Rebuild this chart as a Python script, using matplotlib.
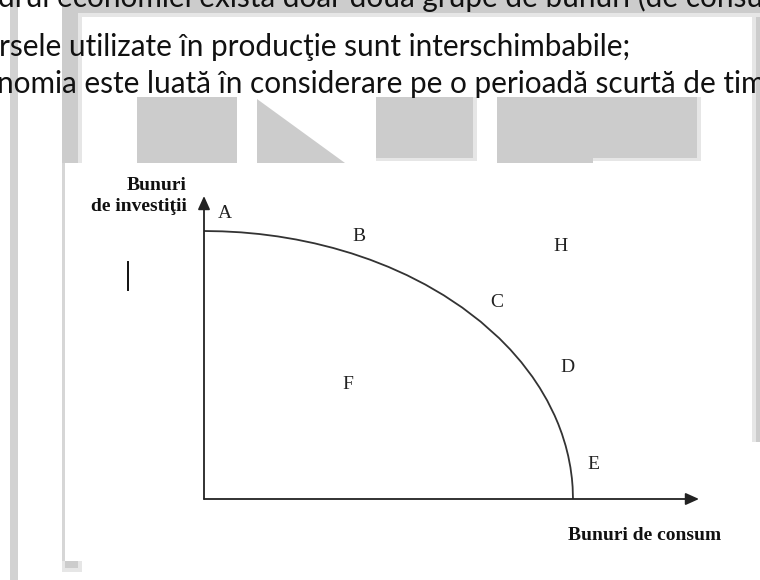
import matplotlib
matplotlib.use("Agg")
import matplotlib.pyplot as plt
from matplotlib.patches import Rectangle, Polygon

# ---------------- data ----------------
# production possibility frontier: consumption goods (x) vs investment goods (y), % of max
ppf_consum = [0, 5, 10, 15, 20, 25, 30, 35, 40, 45, 50, 55, 60, 65, 70, 75, 80, 83, 86,
              89, 91, 93, 95, 96, 97, 98, 98.7, 99.3, 99.7, 99.9, 100]
ppf_invest = [100, 99.87, 99.5, 98.87, 97.98, 96.82, 95.39, 93.67, 91.65, 89.3, 86.6,
              83.52, 80.0, 75.99, 71.41, 66.14, 60.0, 55.78, 51.03, 45.6, 41.46, 36.76,
              31.22, 28.0, 24.31, 19.9, 16.07, 11.81, 7.74, 4.47, 0]

point_names = ["A", "B", "C", "D", "E", "F", "H"]
point_x = [5.7, 42.0, 79.4, 98.6, 105.4, 39.0, 96.5]
point_y = [106.7, 97.8, 73.5, 48.9, 12.7, 42.9, 94.4]

x_label = "Bunuri de consum"
y_label = "Bunuri\nde investiţii"

doc_lines = [
    "drul economiei există doar două grupe de bunuri (de consum şi de investiţii);",
    "rsele utilizate în producţie sunt interschimbabile;",
    "nomia este luată în considerare pe o perioadă scurtă de timp",
]

# ---------------- figure ----------------
W, H = 760, 580
fig = plt.figure(figsize=(W / 100, H / 100), dpi=100)
fig.patch.set_facecolor("white")

bg = fig.add_axes([0, 0, 1, 1])
bg.set_xlim(0, W)
bg.set_ylim(H, 0)
bg.axis("off")

G = "#cccccc"
GL = "#e6e6e6"

def rect(x0, y0, x1, y1, c=G, z=1):
    bg.add_patch(Rectangle((x0, y0), x1 - x0, y1 - y0, facecolor=c, edgecolor="none", zorder=z))

# scanned-page artefacts
rect(10, 0, 18, 580, "#d2d2d2")
rect(62, 0, 760, 13)
rect(82, 13, 760, 17, GL)
rect(62, 0, 78, 163)
rect(78, 13, 82, 163, GL)
rect(62, 163, 65, 572, "#d6d6d6")
rect(62, 561, 82, 572, GL)
rect(65, 561, 78, 568)
rect(137, 97, 237, 163)
bg.add_patch(Polygon([(257, 99), (257, 163), (345, 163)], closed=True,
                     facecolor=G, edgecolor="none", zorder=1))
rect(376, 97, 477, 161, GL)
rect(376, 97, 473, 158)
rect(497, 97, 701, 161, GL)
rect(497, 97, 697, 158)
rect(497, 97, 593, 163)
rect(752, 17, 756, 442, GL)
rect(756, 17, 760, 442)

# cursor line
bg.plot([128, 128], [262, 290], color="#111111", lw=1.4, zorder=3)

# document text (Calibri-like)
fs = 19
t2 = bg.text(-1, 56, doc_lines[1], family="Lato", fontsize=fs, va="baseline",
             ha="left", color="#111111", zorder=4)
fig.canvas.draw()
bb = t2.get_window_extent()
fs = fs * 632.0 / bb.width
t2.set_fontsize(fs)
bg.text(-2, 7, doc_lines[0], family="Lato", fontsize=fs, va="baseline",
        ha="left", color="#111111", zorder=4)
bg.text(-3, 93, doc_lines[2], family="Lato", fontsize=fs, va="baseline",
        ha="left", color="#111111", zorder=4)

# ---------------- chart ----------------
ox, oy = 204, 499        # origin pixels
tipx, tipy = 699, 196    # arrow tips
ax = fig.add_axes([ox / W, (H - oy) / H, (tipx - ox) / W, (oy - tipy) / H])
sx = 369 / 100.0
sy = 268 / 100.0
ax.set_xlim(0, (tipx - ox) / sx)
ax.set_ylim(0, (oy - tipy) / sy)
ax.axis("off")
ax.patch.set_alpha(0)

ink = "#222222"
ax.plot(ppf_consum, ppf_invest, color="#333333", lw=1.3, solid_capstyle="butt",
        solid_joinstyle="round", clip_on=False)

arrow = dict(arrowstyle="-|>,head_length=0.8,head_width=0.36", color=ink, lw=1.3,
             shrinkA=0, shrinkB=0, mutation_scale=10)
ax.annotate("", xy=(ax.get_xlim()[1], 0), xytext=(0, 0), arrowprops=arrow,
            annotation_clip=False)
ax.annotate("", xy=(0, ax.get_ylim()[1]), xytext=(0, 0), arrowprops=arrow,
            annotation_clip=False)

for n, px, py in zip(point_names, point_x, point_y):
    ax.text(px, py, n, family="Liberation Serif", fontsize=14, ha="center",
            va="center", color=ink, clip_on=False)

bg.text(645, 536, x_label, family="Liberation Serif", fontsize=14, fontweight="bold",
        ha="center", va="center", color="#111111", zorder=4)
bg.text(187, 196, y_label, family="Liberation Serif", fontsize=14, fontweight="bold",
        ha="right", va="center", color="#111111", zorder=4, linespacing=1.3,
        multialignment="right")

fig.savefig("out.png", dpi=100, facecolor="white")
